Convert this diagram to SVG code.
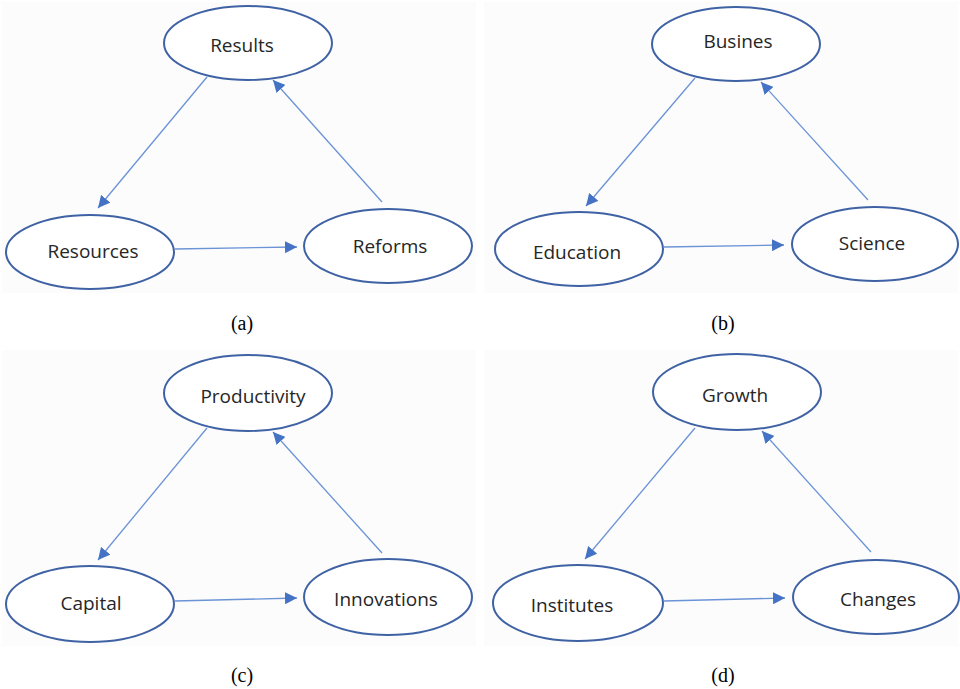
<svg xmlns="http://www.w3.org/2000/svg" width="960" height="689" viewBox="0 0 960 689">
<defs>
<style>
.bg{fill:#fcfcfd;stroke:none}
.node{fill:#ffffff;stroke:#3f62a4;stroke-width:2}
.lbl{font-family:"Open Sans","Noto Sans","DejaVu Sans",sans-serif;font-size:19px;fill:#262626;text-anchor:middle}
.cap{font-family:"Liberation Serif","Times New Roman",serif;font-size:20px;fill:#000;text-anchor:middle}
.edge{stroke:#6b93d6;stroke-width:1.3;fill:none;marker-end:url(#ah)}
</style>
<marker id="ah" viewBox="0 0 10 10" refX="10" refY="5" markerWidth="12" markerHeight="12" markerUnits="userSpaceOnUse" orient="auto">
<path d="M0,0 L10,5 L0,10 z" fill="#4472c4"/>
</marker>
</defs>
<rect width="960" height="689" fill="#ffffff"/>
<g id="backgrounds">
<rect class="bg" x="2" y="2" width="474" height="291"/>
<rect class="bg" x="484" y="2" width="474" height="291"/>
<rect class="bg" x="2" y="350" width="474" height="296"/>
<rect class="bg" x="484" y="350" width="474" height="296"/>
</g>
<g id="connectors">
<line class="edge" x1="207" y1="77" x2="98" y2="208"/>
<line class="edge" x1="175" y1="249" x2="297" y2="247"/>
<line class="edge" x1="382" y1="202" x2="273" y2="80"/>
<line class="edge" x1="695" y1="78" x2="586" y2="206"/>
<line class="edge" x1="664" y1="247" x2="784" y2="245"/>
<line class="edge" x1="868" y1="200" x2="761" y2="82"/>
<line class="edge" x1="207" y1="428" x2="98" y2="560"/>
<line class="edge" x1="175" y1="601" x2="297" y2="598"/>
<line class="edge" x1="382" y1="553" x2="273" y2="432"/>
<line class="edge" x1="695" y1="428" x2="585" y2="559"/>
<line class="edge" x1="664" y1="601" x2="785" y2="598"/>
<line class="edge" x1="871" y1="552" x2="762" y2="431"/>
</g>
<g id="results"><ellipse class="node" cx="248" cy="43" rx="84" ry="37"/><text class="lbl" x="242" y="52">Results</text></g>
<g id="resources"><ellipse class="node" cx="90" cy="252" rx="84" ry="37"/><text class="lbl" x="93" y="258">Resources</text></g>
<g id="reforms"><ellipse class="node" cx="388" cy="246" rx="84" ry="37"/><text class="lbl" x="390" y="253">Reforms</text></g>
<text class="cap" x="242" y="330">(a)</text>
<g id="busines"><ellipse class="node" cx="736" cy="44" rx="84" ry="37"/><text class="lbl" x="738" y="48">Busines</text></g>
<g id="education"><ellipse class="node" cx="579" cy="249" rx="84" ry="37"/><text class="lbl" x="577" y="259">Education</text></g>
<g id="science"><ellipse class="node" cx="875" cy="244" rx="83" ry="37"/><text class="lbl" x="872" y="250">Science</text></g>
<text class="cap" x="723" y="330">(b)</text>
<g id="productivity"><ellipse class="node" cx="248" cy="393" rx="84" ry="38"/><text class="lbl" x="253" y="403">Productivity</text></g>
<g id="capital"><ellipse class="node" cx="90" cy="604" rx="84" ry="38"/><text class="lbl" x="91" y="610">Capital</text></g>
<g id="innovations"><ellipse class="node" cx="388" cy="597" rx="84" ry="38"/><text class="lbl" x="386" y="606">Innovations</text></g>
<text class="cap" x="242" y="682">(c)</text>
<g id="growth"><ellipse class="node" cx="737" cy="392" rx="84" ry="38"/><text class="lbl" x="735" y="402">Growth</text></g>
<g id="institutes"><ellipse class="node" cx="578" cy="603" rx="85" ry="38"/><text class="lbl" x="572" y="612">Institutes</text></g>
<g id="changes"><ellipse class="node" cx="876" cy="597" rx="83" ry="37"/><text class="lbl" x="878" y="606">Changes</text></g>
<text class="cap" x="723" y="682">(d)</text>
</svg>
